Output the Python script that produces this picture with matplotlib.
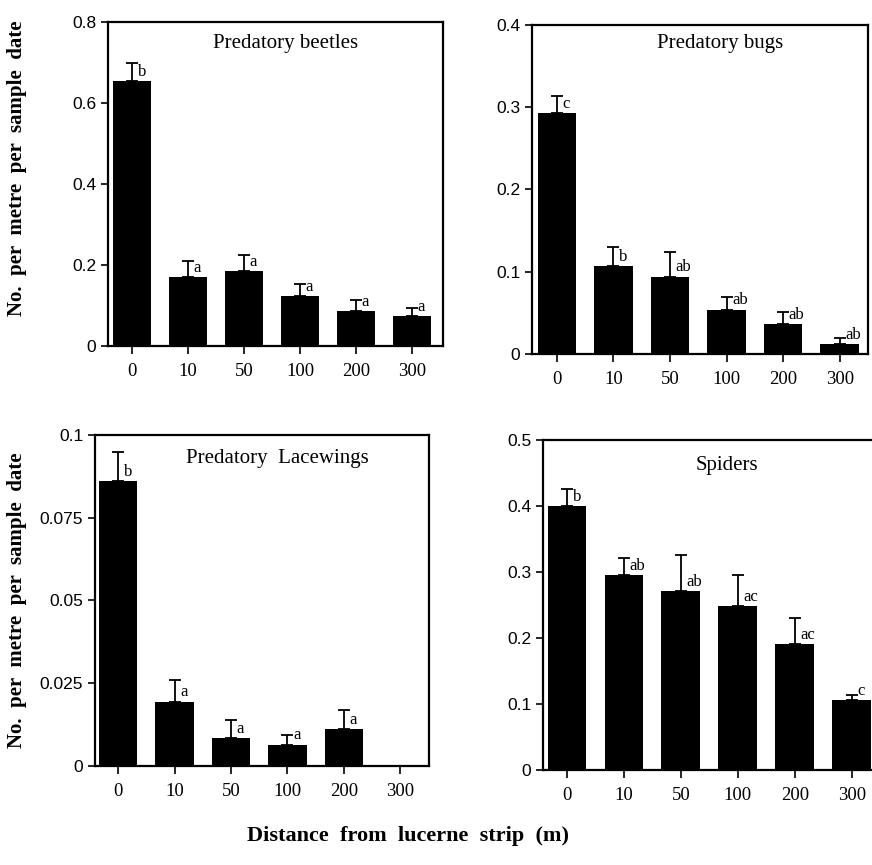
import matplotlib
matplotlib.use("Agg")
import matplotlib.pyplot as plt

# distance classes (m) shared by all panels
distances = ["0", "10", "50", "100", "200", "300"]

beetles = [0.654, 0.170, 0.185, 0.123, 0.086, 0.074]
beetles_err = [0.045, 0.040, 0.040, 0.030, 0.027, 0.020]
beetles_letters = ["b", "a", "a", "a", "a", "a"]

bugs = [0.293, 0.107, 0.094, 0.054, 0.036, 0.012]
bugs_err = [0.021, 0.023, 0.030, 0.015, 0.015, 0.008]
bugs_letters = ["c", "b", "ab", "ab", "ab", "ab"]

lacewings = [0.086, 0.0194, 0.0084, 0.0064, 0.0112, 0.0]
lacewings_err = [0.0088, 0.0066, 0.0055, 0.003, 0.0057, 0.0]
lacewings_letters = ["b", "a", "a", "a", "a", ""]

spiders = [0.400, 0.295, 0.271, 0.248, 0.191, 0.106]
spiders_err = [0.026, 0.027, 0.055, 0.047, 0.039, 0.008]
spiders_letters = ["b", "ab", "ab", "ac", "ac", "c"]

serif = "Liberation Serif"
sans = "Liberation Sans"

fig = plt.figure(figsize=(8.72, 8.65), dpi=100)

panels = [
    # values, errors, letters, title, ymax, yticks, yticklabels, axes rect, xlim, title pos
    (beetles, beetles_err, beetles_letters, "Predatory beetles", 0.8,
     [0, 0.2, 0.4, 0.6, 0.8], ["0", "0.2", "0.4", "0.6", "0.8"],
     [0.1239, 0.600, 0.3842, 0.3746], (-0.43, 5.55), (0.53, 0.935)),
    (bugs, bugs_err, bugs_letters, "Predatory bugs", 0.4,
     [0, 0.1, 0.2, 0.3, 0.4], ["0", "0.1", "0.2", "0.3", "0.4"],
     [0.6101, 0.5908, 0.3853, 0.3803], (-0.44, 5.5), (0.56, 0.945)),
    (lacewings, lacewings_err, lacewings_letters, "Predatory  Lacewings", 0.1,
     [0, 0.025, 0.05, 0.075, 0.1], ["0", "0.025", "0.05", "0.075", "0.1"],
     [0.1089, 0.1145, 0.3830, 0.3827], (-0.41, 5.51), (0.545, 0.93)),
    (spiders, spiders_err, spiders_letters, "Spiders", 0.5,
     [0, 0.1, 0.2, 0.3, 0.4, 0.5], ["0", "0.1", "0.2", "0.3", "0.4", "0.5"],
     [0.6227, 0.1098, 0.3900, 0.3815], (-0.42, 5.55), (0.54, 0.924)),
]

for vals, errs, letters, title, ymax, yt, ytl, rect, xl, tpos in panels:
    ax = fig.add_axes(rect)
    x = list(range(len(distances)))
    ax.bar(x, vals, width=0.68, color="black")
    for i, (v, e, lab) in enumerate(zip(vals, errs, letters)):
        if e > 0:
            ax.errorbar(i, v, yerr=[[0], [e]], fmt="none", ecolor="black",
                        elinewidth=1.3, capsize=4, capthick=1.3)
        if lab:
            ax.text(i + 0.1, v + ymax * 0.004, lab, ha="left", va="bottom",
                    fontsize=12, family=serif)
    ax.set_xlim(*xl)
    ax.set_ylim(0, ymax)
    ax.set_xticks(x)
    ax.set_xticklabels(distances, family=serif, fontsize=13.5)
    ax.set_yticks(yt)
    ax.set_yticklabels(ytl, family=sans, fontsize=12.5)
    ax.tick_params(axis="both", direction="out", length=5, width=1.2,
                   colors="black")
    ax.tick_params(axis="x", pad=6, length=6)
    for s in ax.spines.values():
        s.set_linewidth(1.6)
        s.set_color("black")
    ax.text(tpos[0], tpos[1], title, transform=ax.transAxes, ha="center",
            va="center", fontsize=15, family=serif)

ylab = "No.  per  metre  per  sample  date"
fig.text(17 / 872, 1 - 168 / 865, ylab, rotation=90, ha="center", va="center",
         fontsize=15, family=serif, fontweight="bold")
fig.text(17 / 872, 1 - 600 / 865, ylab, rotation=90, ha="center", va="center",
         fontsize=15, family=serif, fontweight="bold")
fig.text(408 / 872, 1 - 836 / 865, "Distance  from  lucerne  strip  (m)",
         ha="center", va="center", fontsize=16, family=serif,
         fontweight="bold")

fig.savefig("out.png", dpi=100, facecolor="white")
